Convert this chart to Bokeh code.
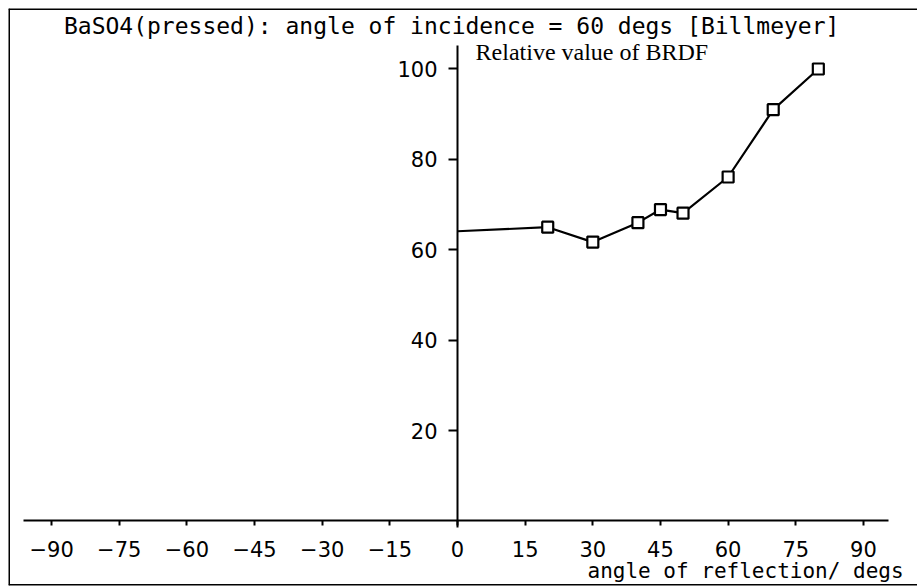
from bokeh.plotting import figure
from bokeh.models import LinearAxis, FixedTicker, Range1d, Label, Span
from bokeh.embed import file_html
from bokeh.resources import INLINE

# ---- data ----
angle_line = [0, 20, 30, 40, 45, 50, 60, 70, 80]
brdf_line = [64.1, 65.0, 61.7, 66.0, 68.9, 68.1, 76.1, 91.0, 100.0]
angle_pts = [20, 30, 40, 45, 50, 60, 70, 80]
brdf_pts = [65.0, 61.7, 66.0, 68.9, 68.1, 76.1, 91.0, 100.0]
x_ticks = [-90, -75, -60, -45, -30, -15, 0, 15, 30, 45, 60, 75, 90]
y_ticks = [20, 40, 60, 80, 100]

title_text = "BaSO4(pressed): angle of incidence = 60 degs [Billmeyer]"
y_title = "Relative value of BRDF"
x_title = "angle of reflection/ degs"

X0, X1 = -99.56, 101.99
Y0, Y1 = -14.27, 113.38

p = figure(width=917, height=588, output_backend="svg", toolbar_location=None,
           x_axis_location=None, y_axis_location=None,
           x_range=Range1d(X0, X1), y_range=Range1d(Y0, Y1),
           min_border_left=8, min_border_right=0, min_border_top=8, min_border_bottom=3)
p.grid.visible = False
p.outline_line_color = None
p.background_fill_color = "white"
p.border_fill_color = "white"

# page border (top, bottom, left; right side is cut off in the reference)
for loc, dim in [(Y1, "width"), (Y0, "width"), (X0, "height")]:
    p.add_layout(Span(location=loc, dimension=dim, line_color="black", line_width=3))

xa = LinearAxis(fixed_location=0, ticker=FixedTicker(ticks=x_ticks), bounds=(-96.3, 95.6))
xa.axis_line_width = 2
xa.major_tick_line_width = 2
xa.major_tick_in = 0
xa.major_tick_out = 5
xa.minor_tick_out = 0
xa.minor_tick_in = 0
xa.major_label_standoff = 15
xa.major_label_text_font = "DejaVu Sans"
xa.major_label_text_font_size = "21px"
xa.major_label_text_color = "black"
p.add_layout(xa, "below")

ya = LinearAxis(fixed_location=0, ticker=FixedTicker(ticks=y_ticks), bounds=(-1.5, 105.2))
ya.axis_line_width = 2
ya.major_tick_line_width = 2
ya.major_tick_in = 0
ya.major_tick_out = 9
ya.minor_tick_out = 0
ya.minor_tick_in = 0
ya.major_label_standoff = 11
ya.major_label_text_font = "DejaVu Sans"
ya.major_label_text_font_size = "21px"
ya.major_label_text_color = "black"
p.add_layout(ya, "left")

p.line(angle_line, brdf_line, line_color="black", line_width=2.2)
p.scatter(angle_pts, brdf_pts, marker="square", size=11, fill_color="white",
          line_color="black", line_width=2.2)

p.add_layout(Label(x=-1.3, y=109.6, text=title_text, text_align="center",
                   text_baseline="middle", text_font="DejaVu Sans Mono",
                   text_font_size="23px", text_color="black"))
p.add_layout(Label(x=4.0, y=103.65, text=y_title, text_align="left",
                   text_baseline="middle", text_font="Liberation Serif",
                   text_font_size="24px", text_color="black"))
p.add_layout(Label(x=98.9, y=-11.1, text=x_title, text_align="right",
                   text_baseline="middle", text_font="DejaVu Sans Mono",
                   text_font_size="21px", text_color="black"))

open("out.html", "w").write(file_html(p, INLINE))
